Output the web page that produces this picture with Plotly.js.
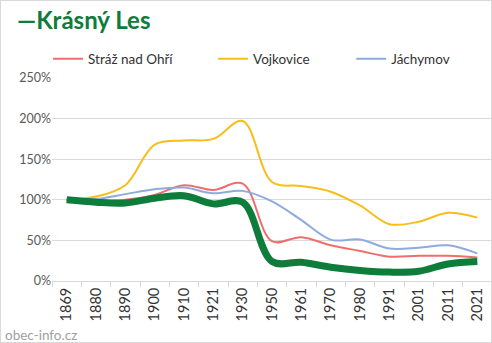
<!DOCTYPE html>
<html>
<head>
<meta charset="utf-8">
<script src="https://cdn.plot.ly/plotly-3.0.1.min.js"></script>
<style>
  html, body { margin: 0; padding: 0; background: #fff; }
  #wrap { position: relative; width: 492px; height: 343px; }
  #chart { width: 492px; height: 343px; }
  #frame { position: absolute; left: 0; top: 0; width: 490px; height: 341px; border: 1px solid #d9d9d9; pointer-events: none; }
</style>
</head>
<body>
<div id="wrap"><div id="chart"></div><div id="frame"></div></div>
<script>
const years = ["1869","1880","1890","1900","1910","1921","1930","1950","1961","1970","1980","1991","2001","2011","2021"];
const strazNadOhri = [100, 98, 100, 106, 118, 112, 120, 49, 54, 44, 37, 30, 31, 31, 29];
const vojkovice    = [100, 104, 118, 168, 173, 175, 197, 122, 117, 110, 93, 70, 73, 84, 78];
const jachymov     = [100, 101, 107, 113, 115, 108, 111, 98, 75, 51, 51, 40, 41, 44, 34];
const krasnyLes    = [100, 97, 96, 102, 105, 95, 97, 24, 23, 17, 13, 11, 12, 21, 24];
const yTicks = [0, 50, 100, 150, 200, 250];

const font = "Lato, 'Open Sans', sans-serif";

const traces = [
  {x: years, y: strazNadOhri, name: "Stráž nad Ohří", type: "scatter", mode: "lines",
   line: {color: "#EE6E6E", width: 2, shape: "spline", smoothing: 1}, legend: "legend"},
  {x: years, y: vojkovice, name: "Vojkovice", type: "scatter", mode: "lines",
   line: {color: "#F7BE1A", width: 2, shape: "spline", smoothing: 1}, legend: "legend2"},
  {x: years, y: jachymov, name: "Jáchymov", type: "scatter", mode: "lines",
   line: {color: "#8FAADC", width: 2, shape: "spline", smoothing: 1}, legend: "legend3"},
  {x: years, y: krasnyLes, name: "Krásný Les", type: "scatter", mode: "lines",
   line: {color: "#0E7C3A", width: 7, shape: "spline", smoothing: 1}, showlegend: false}
];

const legBase = {orientation: "h", yanchor: "middle", y: 1.094, xanchor: "left",
  bgcolor: "rgba(0,0,0,0)", borderwidth: 0, font: {family: font, size: 13.5, color: "#333333"}};

const layout = {
  width: 492, height: 343,
  margin: {l: 52, r: 0, t: 78, b: 62},
  paper_bgcolor: "#ffffff", plot_bgcolor: "#ffffff",
  font: {family: font},
  title: {text: "<b>—Krásný Les</b>", font: {family: font, size: 24, color: "#0E7C3A"},
          x: 17/492, xanchor: "left", xref: "container", y: 1 - 21/343, yanchor: "middle", yref: "container"},
  xaxis: {type: "category", range: [-0.5, years.length - 0.5], tickangle: -90,
          tickfont: {family: font, size: 14.5, color: "#333333"},
          ticks: "outside", tickson: "boundaries", ticklen: 5, tickcolor: "#d9d9d9",
          showline: true, linecolor: "#d9d9d9", linewidth: 1, showgrid: false, fixedrange: true},
  yaxis: {range: [0, 250], tickvals: yTicks, ticktext: yTicks.map(v => v + "%"),
          tickfont: {family: font, size: 12.5, color: "#595959"}, gridcolor: "#d9d9d9", gridwidth: 1,
          zeroline: false, showline: false, ticks: "", fixedrange: true},
  legend: Object.assign({}, legBase, {x: -0.009}),
  legend2: Object.assign({}, legBase, {x: 0.366}),
  legend3: Object.assign({}, legBase, {x: 0.68}),
  annotations: [{text: "obec-info.cz", xref: "paper", yref: "paper", x: -49/440, y: -54/202,
                 xanchor: "left", yanchor: "middle", showarrow: false,
                 font: {family: font, size: 13.5, color: "#a0a0a0"}}]
};

Plotly.newPlot("chart", traces, layout, {displayModeBar: false, staticPlot: true});
</script>
</body>
</html>
